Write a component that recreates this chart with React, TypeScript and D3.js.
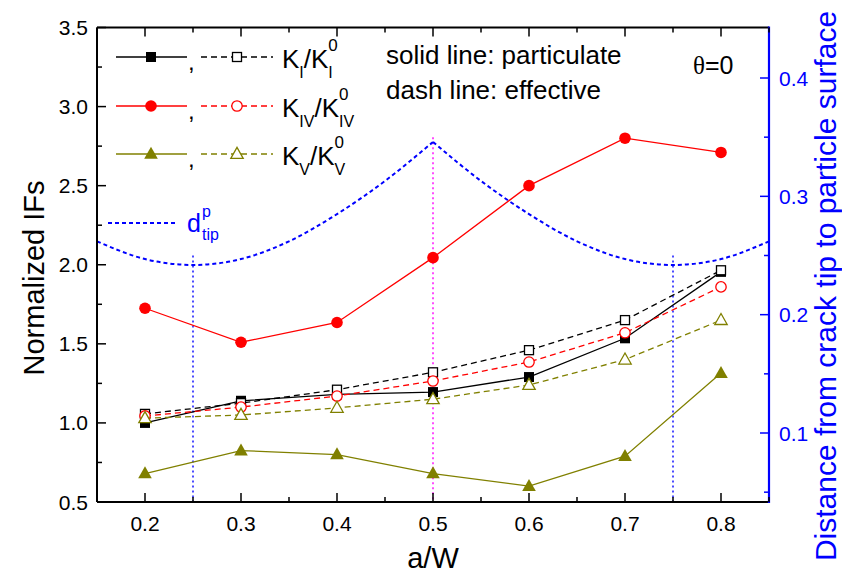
import React from 'react';
import * as d3 from 'd3';

const aW = [0.2, 0.3, 0.4, 0.5, 0.6, 0.7, 0.8];
const kIPart = [1.0, 1.14, 1.18, 1.195, 1.29, 1.535, 1.955];
const kIEff = [1.057, 1.125, 1.21, 1.32, 1.46, 1.65, 1.965];
const kIVPart = [1.725, 1.51, 1.635, 2.045, 2.5, 2.8, 2.71];
const kIVEff = [1.044, 1.1, 1.17, 1.265, 1.385, 1.57, 1.86];
const kVPart = [0.68, 0.825, 0.8, 0.68, 0.6, 0.79, 1.315];
const kVEff = [1.03, 1.05, 1.095, 1.15, 1.24, 1.4, 1.65];

const dX = [0.15, 0.2, 0.25, 0.3, 0.35, 0.4, 0.45, 0.5, 0.55, 0.6, 0.65, 0.7, 0.75, 0.8, 0.85];
const dTip = [0.262, 0.247, 0.242, 0.247, 0.262, 0.285, 0.313, 0.346, 0.313, 0.285, 0.262, 0.247, 0.242, 0.247, 0.262];

const refX = [0.25, 0.5, 0.75];
const refTop = [0.25, 0.35, 0.25];
const refColor = ['#0000ff', '#ff00ff', '#0000ff'];

const xTicks = [0.2, 0.3, 0.4, 0.5, 0.6, 0.7, 0.8];
const xMinor = [0.15, 0.25, 0.35, 0.45, 0.55, 0.65, 0.75, 0.85];
const yTicks = [0.5, 1.0, 1.5, 2.0, 2.5, 3.0, 3.5];
const yMinor = [0.75, 1.25, 1.75, 2.25, 2.75, 3.25];
const rTicks = [0.1, 0.2, 0.3, 0.4];
const rMinor = [0.05, 0.15, 0.25, 0.35];

const W = 842, H = 575;
const L = 97, R = 769, T = 27.5, B = 502;

const x = d3.scaleLinear().domain([0.15, 0.85]).range([L, R]);
const y = d3.scaleLinear().domain([0.5, 3.5]).range([B, T]);
const yr = d3.scaleLinear().domain([0.04169, 0.44268]).range([B, T]);

const FONT = 'Arial, "Liberation Sans", Helvetica, sans-serif';

type Shape = 'square' | 'circle' | 'triangle';

function Marker({ cx, cy, shape, color, filled }: { cx: number; cy: number; shape: Shape; color: string; filled: boolean }) {
  const fill = filled ? color : '#ffffff';
  const sw = filled ? 0 : 1.3;
  if (shape === 'square') {
    const s = filled ? 10 : 9;
    return <rect x={cx - s / 2} y={cy - s / 2} width={s} height={s} fill={fill} stroke={color} strokeWidth={sw} />;
  }
  if (shape === 'circle') {
    return <circle cx={cx} cy={cy} r={filled ? 5.8 : 5.2} fill={fill} stroke={color} strokeWidth={sw} />;
  }
  const hw = filled ? 6.8 : 6.2;
  const h = filled ? 12 : 11;
  const pts = `${cx},${cy - h * 0.6} ${cx + hw},${cy + h * 0.4} ${cx - hw},${cy + h * 0.4}`;
  return <polygon points={pts} fill={fill} stroke={color} strokeWidth={sw} />;
}

const series = [
  { vals: kIPart, color: '#000000', shape: 'square' as Shape, filled: true, dash: null },
  { vals: kIEff, color: '#000000', shape: 'square' as Shape, filled: false, dash: '6,4' },
  { vals: kIVPart, color: '#ff0000', shape: 'circle' as Shape, filled: true, dash: null },
  { vals: kIVEff, color: '#ff0000', shape: 'circle' as Shape, filled: false, dash: '6,4' },
  { vals: kVPart, color: '#808000', shape: 'triangle' as Shape, filled: true, dash: null },
  { vals: kVEff, color: '#808000', shape: 'triangle' as Shape, filled: false, dash: '6,4' },
];

const legendRows = [
  { color: '#000000', shape: 'square' as Shape, sub: 'I', y: 57 },
  { color: '#ff0000', shape: 'circle' as Shape, sub: 'IV', y: 106 },
  { color: '#808000', shape: 'triangle' as Shape, sub: 'V', y: 154 },
];

function subWidth(s: string, fs: number) {
  let w = 0;
  for (const c of s) w += (c === 'I' ? 0.278 : 0.667) * fs;
  return w;
}

function KLabel({ x0, yb, sub }: { x0: number; yb: number; sub: string }) {
  const fk = 26, fs = 16, f0 = 17;
  const kW = 0.667 * fk;
  const sW = subWidth(sub, fs);
  const slashW = 0.278 * fk;
  const x1 = x0 + kW;
  const x2 = x1 + sW;
  const x3 = x2 + slashW;
  const x4 = x3 + kW;
  return (
    <g fontFamily={FONT} fill="#000">
      <text x={x0} y={yb} fontSize={fk}>K</text>
      <text x={x1} y={yb + 10} fontSize={fs}>{sub}</text>
      <text x={x2} y={yb} fontSize={fk}>/</text>
      <text x={x3} y={yb} fontSize={fk}>K</text>
      <text x={x4} y={yb + 10} fontSize={fs}>{sub}</text>
      <text x={x4} y={yb - 17} fontSize={f0}>0</text>
    </g>
  );
}

export default function App() {
  const line = d3.line<number>().x((_, i) => x(aW[i])).y((v) => y(v));
  const dPts = dX.map((v, i) => [v, dTip[i]] as [number, number]);
  const leftHalf = dPts.filter((p) => p[0] <= 0.5);
  const rightHalf = dPts.filter((p) => p[0] >= 0.5);
  const dLine = d3.line<[number, number]>().x((p) => x(p[0])).y((p) => yr(p[1])).curve(d3.curveMonotoneX);

  return (
    <svg width={W} height={H} style={{ position: 'absolute', left: 0, top: 0, background: '#fff' }} fontFamily={FONT}>
      <rect x={0} y={0} width={W} height={H} fill="#fff" />
      <defs>
        <clipPath id="plotclip">
          <rect x={L} y={T} width={R - L} height={B - T} />
        </clipPath>
      </defs>

      {refX.map((v, i) => (
        <line key={'ref' + i} x1={x(v)} x2={x(v)} y1={yr(refTop[i])} y2={B} stroke={refColor[i]} strokeWidth={1.4} strokeDasharray="2,3" />
      ))}

      <g clipPath="url(#plotclip)">
        <path d={dLine(leftHalf) || ''} fill="none" stroke="#0000ff" strokeWidth={2} strokeDasharray="4,3" />
        <path d={dLine(rightHalf) || ''} fill="none" stroke="#0000ff" strokeWidth={2} strokeDasharray="4,3" />
      </g>

      {series.map((s, i) => (
        <path key={'l' + i} d={line(s.vals) || ''} fill="none" stroke={s.color} strokeWidth={1.3} strokeDasharray={s.dash || undefined} />
      ))}
      {series.map((s, i) =>
        s.vals.map((v, j) => (
          <Marker key={'m' + i + '-' + j} cx={x(aW[j])} cy={y(v)} shape={s.shape} color={s.color} filled={s.filled} />
        ))
      )}

      <line x1={L} x2={R} y1={B} y2={B} stroke="#000" strokeWidth={2} />
      <line x1={L} x2={R} y1={T} y2={T} stroke="#000" strokeWidth={2} />
      <line x1={L} x2={L} y1={T} y2={B} stroke="#000" strokeWidth={2} />
      <line x1={R} x2={R} y1={T - 1} y2={B + 1} stroke="#0000ff" strokeWidth={2.2} />

      {xTicks.map((t) => (
        <g key={'xt' + t}>
          <line x1={x(t)} x2={x(t)} y1={B} y2={B - 9} stroke="#000" strokeWidth={1.5} />
          <line x1={x(t)} x2={x(t)} y1={T} y2={T + 9} stroke="#000" strokeWidth={1.5} />
          <text x={x(t)} y={531} fontSize={21} textAnchor="middle" fill="#000">{t.toFixed(1)}</text>
        </g>
      ))}
      {xMinor.map((t) => (
        <g key={'xm' + t}>
          <line x1={x(t)} x2={x(t)} y1={B} y2={B - 5} stroke="#000" strokeWidth={1.5} />
          <line x1={x(t)} x2={x(t)} y1={T} y2={T + 5} stroke="#000" strokeWidth={1.5} />
        </g>
      ))}

      {yTicks.map((t) => (
        <g key={'yt' + t}>
          <line x1={L} x2={L + 9} y1={y(t)} y2={y(t)} stroke="#000" strokeWidth={1.5} />
          <text x={88} y={y(t) + 7.5} fontSize={21} textAnchor="end" fill="#000">{t.toFixed(1)}</text>
        </g>
      ))}
      {yMinor.map((t) => (
        <line key={'ym' + t} x1={L} x2={L + 5} y1={y(t)} y2={y(t)} stroke="#000" strokeWidth={1.5} />
      ))}

      {rTicks.map((t) => (
        <g key={'rt' + t}>
          <line x1={R} x2={R - 9} y1={yr(t)} y2={yr(t)} stroke="#0000ff" strokeWidth={1.5} />
          <text x={779} y={yr(t) + 7.5} fontSize={21} fill="#0000ff">{t.toFixed(1)}</text>
        </g>
      ))}
      {rMinor.map((t) => (
        <line key={'rm' + t} x1={R} x2={R - 5} y1={yr(t)} y2={yr(t)} stroke="#0000ff" strokeWidth={1.5} />
      ))}

      <text x={433} y={568} fontSize={29} textAnchor="middle" fill="#000">a/W</text>
      <text transform="translate(44,278) rotate(-90)" fontSize={29} textAnchor="middle" fill="#000">Normalized IFs</text>
      <text transform="translate(836,286) rotate(-90)" fontSize={30} textAnchor="middle" fill="#0000ff">Distance from crack tip to particle surface</text>

      {legendRows.map((r, i) => (
        <g key={'lg' + i}>
          <line x1={116} x2={187} y1={r.y} y2={r.y} stroke={r.color} strokeWidth={1.3} />
          <Marker cx={151} cy={r.y} shape={r.shape} color={r.color} filled={true} />
          <text x={188} y={r.y + 13} fontSize={24} fill="#000">,</text>
          <line x1={201} x2={273} y1={r.y} y2={r.y} stroke={r.color} strokeWidth={1.3} strokeDasharray="6,4" />
          <Marker cx={237} cy={r.y} shape={r.shape} color={r.color} filled={false} />
          <KLabel x0={282} yb={r.y + 11} sub={r.sub} />
        </g>
      ))}

      <text x={386} y={64} fontSize={26} fill="#000">solid line: particulate</text>
      <text x={386} y={99} fontSize={26} fill="#000">dash line: effective</text>
      <text x={693} y={74} fontSize={25} fill="#000">
        <tspan fontFamily='"Times New Roman", "Liberation Serif", serif'>θ</tspan>=0
      </text>

      <line x1={108} x2={177} y1={223} y2={223} stroke="#0000ff" strokeWidth={2} strokeDasharray="4,3" />
      <text x={187} y={232} fontSize={25} fill="#0000ff">d</text>
      <text x={202} y={217} fontSize={16} fill="#0000ff">p</text>
      <text x={202} y={240} fontSize={16} fill="#0000ff">tip</text>
    </svg>
  );
}
